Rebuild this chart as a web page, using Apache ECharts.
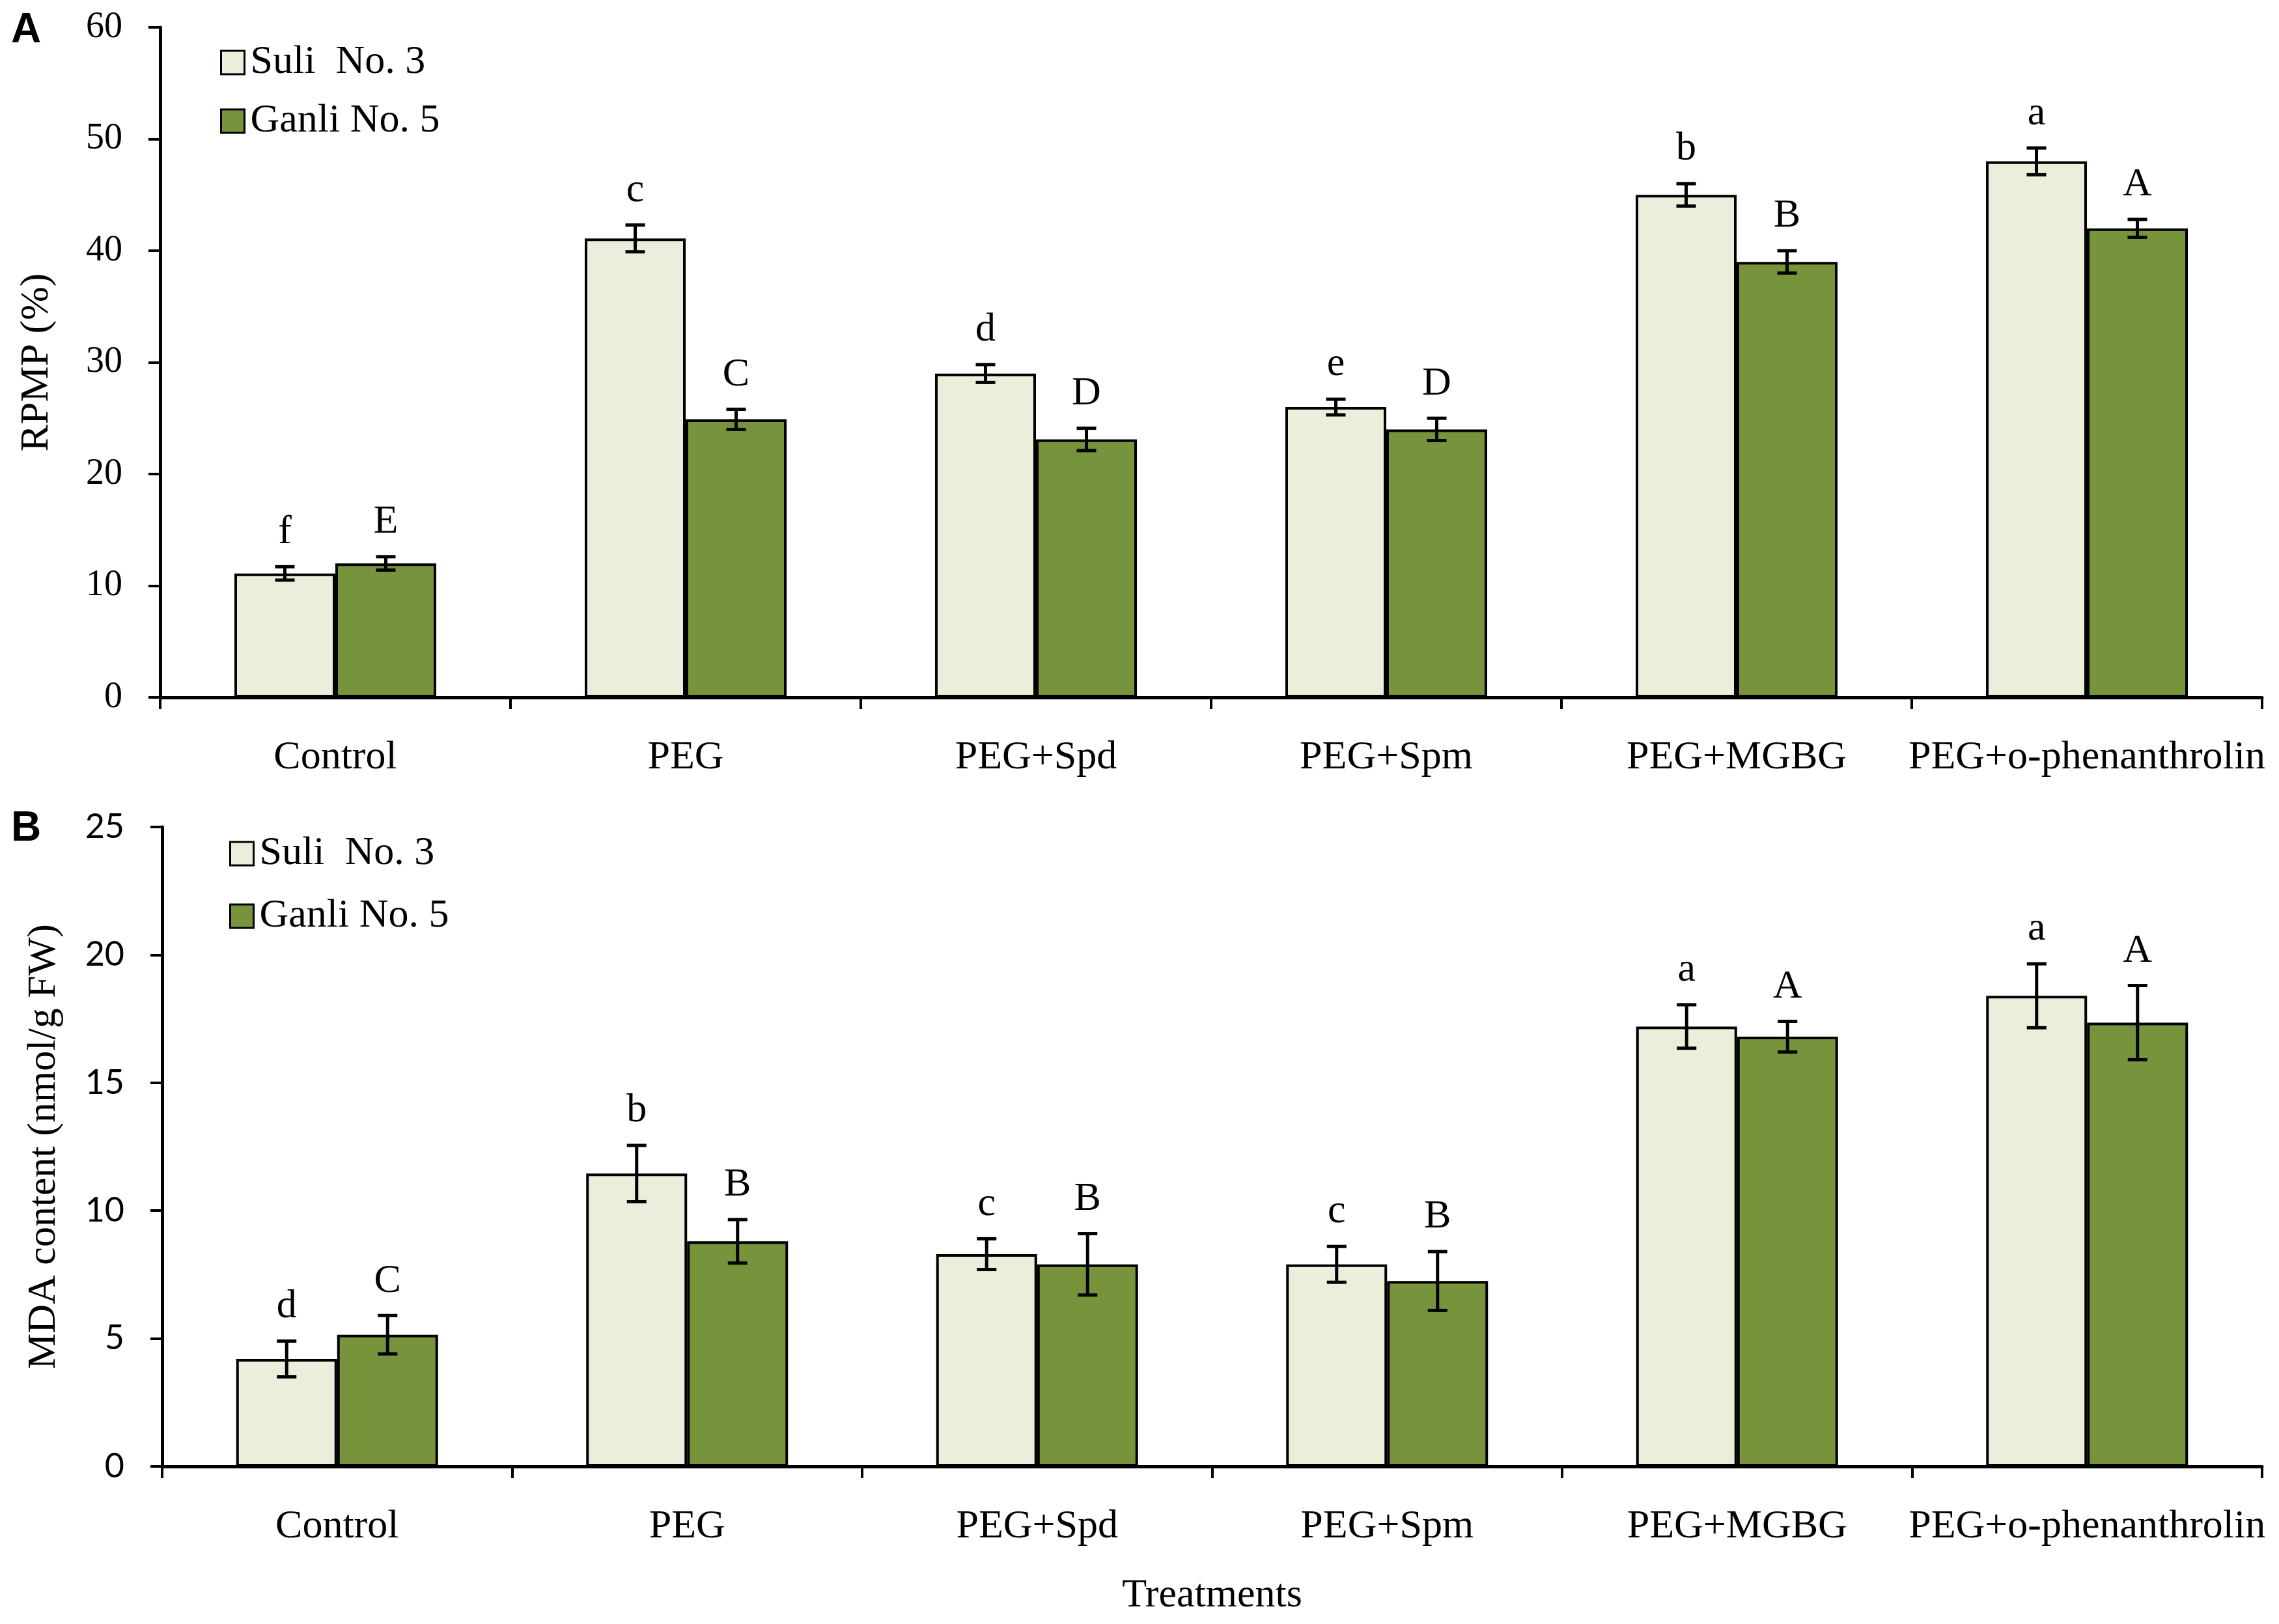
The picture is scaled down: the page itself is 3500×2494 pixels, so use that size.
<!DOCTYPE html>
<html>
<head>
<meta charset="utf-8">
<script src="https://cdn.jsdelivr.net/npm/echarts@6/dist/echarts.min.js"></script>
<style>
html,body{margin:0;padding:0;background:#fff;}
#chart{width:3500px;height:2494px;}
</style>
</head>
<body>
<div id="chart"></div>
<script>
// ---------------- DATA ----------------
const categories = ['Control', 'PEG', 'PEG+Spd', 'PEG+Spm', 'PEG+MGBG', 'PEG+o-phenanthrolin'];
const seriesNames = ['Suli  No. 3', 'Ganli No. 5'];

// Panel A: RPMP (%)
const rpmpSuli = [11.1, 41.1, 29.0, 26.0, 45.0, 48.0];
const rpmpSuliErr = [0.6, 1.2, 0.8, 0.7, 1.0, 1.2];
const rpmpGanli = [12.0, 24.9, 23.1, 24.0, 39.0, 42.0];
const rpmpGanliErr = [0.6, 0.9, 1.0, 1.0, 1.0, 0.8];
const rpmpSuliLetters = ['f', 'c', 'd', 'e', 'b', 'a'];
const rpmpGanliLetters = ['E', 'C', 'D', 'D', 'B', 'A'];

// Panel B: MDA content (nmol/g FW)
const mdaSuli = [4.2, 11.45, 8.3, 7.9, 17.2, 18.4];
const mdaSuliErr = [0.7, 1.1, 0.6, 0.7, 0.85, 1.25];
const mdaGanli = [5.15, 8.8, 7.9, 7.25, 16.8, 17.35];
const mdaGanliErr = [0.75, 0.85, 1.2, 1.15, 0.6, 1.45];
const mdaSuliLetters = ['d', 'b', 'c', 'c', 'a', 'a'];
const mdaGanliLetters = ['C', 'B', 'B', 'B', 'A', 'A'];

// ---------------- STYLE ----------------
const SERIF = 'Liberation Serif';
const SANS = 'Lato';
const SULI_COLOR = '#EAEEDB';
const GANLI_COLOR = '#77933C';
const BAR_W = 155;
const TXT = 62;

function barSeries(name, gi, data, color) {
  return {
    type: 'bar', name: name, xAxisIndex: gi, yAxisIndex: gi,
    data: data, barWidth: BAR_W, barGap: '0%',
    itemStyle: { color: color, borderColor: '#000', borderWidth: 4 },
    z: 2
  };
}

function errSeries(id, gi, means, errs, letters, side) {
  return {
    type: 'custom', name: id, xAxisIndex: gi, yAxisIndex: gi, z: 10,
    data: means.map((m, i) => [i, m, errs[i]]),
    encode: { x: 0, y: 1 },
    renderItem: function (params, api) {
      const i = api.value(0), m = api.value(1), e = api.value(2);
      const top = api.coord([i, m + e]);
      const bot = api.coord([i, m - e]);
      const x = top[0] + side * BAR_W / 2;
      const cap = 15;
      const ls = { stroke: '#000', lineWidth: 5 };
      return {
        type: 'group',
        children: [
          { type: 'line', shape: { x1: x, y1: top[1], x2: x, y2: bot[1] }, style: ls },
          { type: 'line', shape: { x1: x - cap, y1: top[1], x2: x + cap, y2: top[1] }, style: ls },
          { type: 'line', shape: { x1: x - cap, y1: bot[1], x2: x + cap, y2: bot[1] }, style: ls },
          {
            type: 'text', x: x, y: top[1] - 22,
            style: {
              text: letters[params.dataIndex], align: 'center', verticalAlign: 'bottom',
              fontSize: TXT, fontFamily: SERIF, fill: '#000'
            }
          }
        ]
      };
    }
  };
}

function xAxisCfg(gi, withName) {
  const ax = {
    type: 'category', gridIndex: gi, data: categories, boundaryGap: true,
    axisLine: { lineStyle: { color: '#000', width: 5 } },
    axisTick: { show: true, length: 18, lineStyle: { color: '#000', width: 4 } },
    axisLabel: { color: '#000', fontFamily: SERIF, fontSize: TXT, margin: 62, interval: 0 }
  };
  if (withName) {
    ax.name = 'Treatments';
    ax.nameLocation = 'middle';
    ax.nameGap = 168;
    ax.nameTextStyle = { color: '#000', fontFamily: SERIF, fontSize: TXT };
  }
  return ax;
}

function yAxisCfg(gi, max, interval, name, labelFont, labelSize, gap) {
  return {
    type: 'value', gridIndex: gi, min: 0, max: max, interval: interval,
    name: name, nameLocation: 'middle', nameGap: gap,
    nameTextStyle: { color: '#000', fontFamily: SERIF, fontSize: TXT },
    axisLine: { show: true, lineStyle: { color: '#000', width: 5 } },
    axisTick: { show: true, length: 18, lineStyle: { color: '#000', width: 4 } },
    axisLabel: { color: '#000', fontFamily: labelFont, fontSize: labelSize, margin: 58 },
    splitLine: { show: false }
  };
}

const legendCommon = {
  orient: 'vertical', icon: 'rect', itemWidth: 36, itemHeight: 36,
  itemStyle: { borderColor: '#000', borderWidth: 3 },
  textStyle: { color: '#000', fontFamily: SERIF, fontSize: TXT, lineHeight: 62, padding: [0, 0, 0, 4] },
  data: seriesNames, selectedMode: false
};

const option = {
  backgroundColor: '#fff',
  animation: false,
  title: [
    { text: 'A', left: 12, top: 10, textStyle: { fontFamily: 'Liberation Sans', fontWeight: 'bold', fontSize: 64, color: '#000' } },
    { text: 'B', left: 12, top: 1236, textStyle: { fontFamily: 'Liberation Sans', fontWeight: 'bold', fontSize: 64, color: '#000' } }
  ],
  legend: [
    Object.assign({}, legendCommon, { left: 333, top: 60, itemGap: 28 }),
    Object.assign({}, legendCommon, { left: 347, top: 1275, itemGap: 34 })
  ],
  grid: [
    { left: 246, right: 26, top: 42, height: 1029 },
    { left: 249, right: 26, top: 1270, height: 982 }
  ],
  xAxis: [xAxisCfg(0, false), xAxisCfg(1, true)],
  yAxis: [
    yAxisCfg(0, 60, 10, 'RPMP (%)', SERIF, 56, 158),
    yAxisCfg(1, 25, 5, 'MDA content (nmol/g FW)', SANS, 52, 150)
  ],
  series: [
    barSeries(seriesNames[0], 0, rpmpSuli, SULI_COLOR),
    barSeries(seriesNames[1], 0, rpmpGanli, GANLI_COLOR),
    barSeries(seriesNames[0], 1, mdaSuli, SULI_COLOR),
    barSeries(seriesNames[1], 1, mdaGanli, GANLI_COLOR),
    errSeries('errA0', 0, rpmpSuli, rpmpSuliErr, rpmpSuliLetters, -1),
    errSeries('errA1', 0, rpmpGanli, rpmpGanliErr, rpmpGanliLetters, 1),
    errSeries('errB0', 1, mdaSuli, mdaSuliErr, mdaSuliLetters, -1),
    errSeries('errB1', 1, mdaGanli, mdaGanliErr, mdaGanliLetters, 1)
  ]
};

const chart = echarts.init(document.getElementById('chart'), null, { renderer: 'canvas' });
chart.setOption(option);
</script>
</body>
</html>
